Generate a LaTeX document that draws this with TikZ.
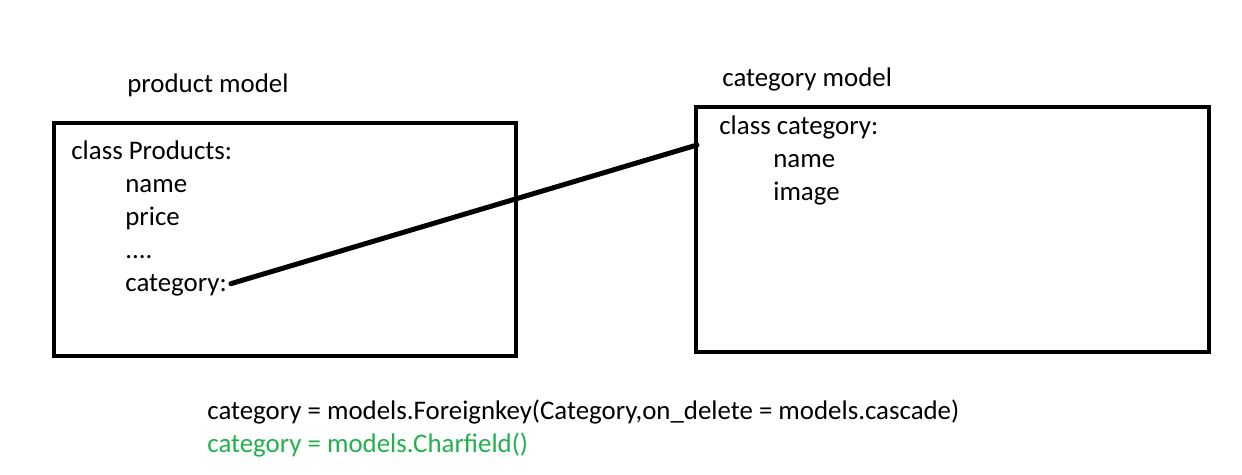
\documentclass[tikz,border=0pt]{standalone}
\usepackage{fontspec}
\setmainfont{Carlito}
\usepackage{xcolor}
\usepackage{tikz}
\usetikzlibrary{positioning}
\definecolor{paintgreen}{RGB}{34,177,76}

\begin{document}
\begin{tikzpicture}[
  x=0.02cm, y=-0.02cm,
  boxline/.style={line width=0.08cm},
  fklink/.style={line width=0.1cm, line cap=round},
  txt/.style={anchor=base west, inner sep=0pt, font=\fontsize{15.3}{18.7}\selectfont},
]
  \useasboundingbox (0,0) rectangle (1242,474);

  % Product model
  \node[txt] (prodtitle) at (127,92) {product model};
  \draw[boxline] (54,123) rectangle (516,356);
  \node[txt] (prodclass) at (71,159) {class Products:};
  \node[txt] (prodname)  at (125,192) {name};
  \node[txt] (prodprice) at (125,225) {price};
  \node[txt] (proddots)  at (125,258) {....};
  \node[txt] (prodcat)   at (125,291) {category:};

  % Category model
  \node[txt] (cattitle) at (722,86) {category model};
  \draw[boxline] (695.5,106.5) rectangle (1209,352);
  \node[txt] (catclass) at (719,134) {class category:};
  \node[txt] (catname)  at (773,167) {name};
  \node[txt] (catimage) at (773,200) {image};

  % Foreign key link
  \coordinate (fkend) at (697,145);
  \draw[fklink, shorten <=0.08cm] (prodcat.east) -- (fkend);

  % Field options
  \node[txt] (fkline) at (207,419)
    {category = models.Foreignkey(Category,on\_delete = models.cascade)};
  \node[txt, text=paintgreen] (charline) at (207,452)
    {category = models.Charfield()};
\end{tikzpicture}
\end{document}
